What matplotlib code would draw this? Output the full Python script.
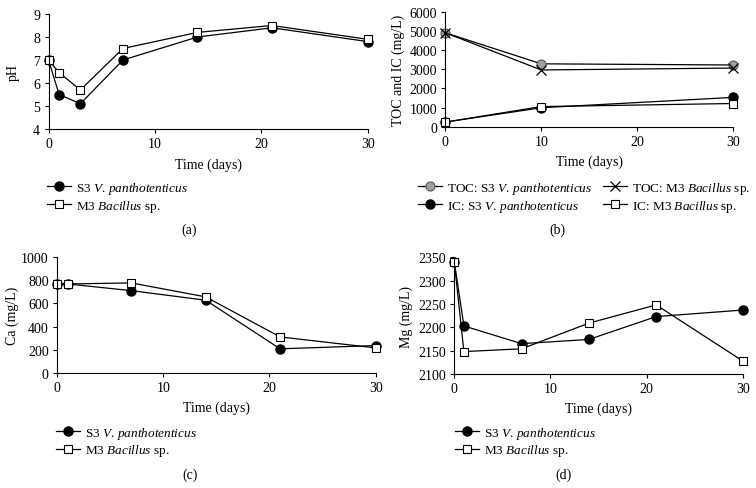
import matplotlib
matplotlib.use("Agg")
import matplotlib.pyplot as plt

plt.rcParams['font.family'] = ['Liberation Serif', 'DejaVu Serif']
plt.rcParams['mathtext.fontset'] = 'custom'
plt.rcParams['mathtext.rm'] = 'Liberation Serif'
plt.rcParams['mathtext.it'] = 'Liberation Serif:italic'
plt.rcParams['font.size'] = 9.5

# ---- data ----
ph_days = [0, 1, 3, 7, 14, 21, 30]
ph_s3 = [7.0, 5.5, 5.1, 7.0, 8.0, 8.4, 7.8]
ph_m3 = [7.0, 6.45, 5.7, 7.5, 8.2, 8.5, 7.9]

c_days = [0, 10, 30]
toc_s3 = [4900, 3280, 3220]
toc_m3 = [4900, 2960, 3060]
ic_s3 = [240, 990, 1530]
ic_m3 = [240, 1050, 1210]

ca_days = [0, 1, 7, 14, 21, 30]
ca_s3 = [769, 769, 711, 628, 207, 235]
ca_m3 = [769, 769, 778, 657, 310, 215]

mg_days = [0, 1, 7, 14, 21, 30]
mg_s3 = [2340, 2203, 2165, 2174, 2223, 2237]
mg_m3 = [2340, 2148, 2154, 2209, 2248, 2128]

lab_s3 = r'S3 $\it{V.\,panthotenticus}$'
lab_m3 = r'M3 $\it{Bacillus}$ sp.'

W, H = 756, 489
FS = 10
LFS = 9.5
fig = plt.figure(figsize=(W / 100, H / 100), dpi=100)


def make_ax(x0, x1, ytop, ybot, ylabel, ylab_x, xlab_y):
    ax = fig.add_axes([x0 / W, 1 - ybot / H, (x1 - x0) / W, (ybot - ytop) / H])
    for s in ['top', 'right']:
        ax.spines[s].set_visible(False)
    for s in ['left', 'bottom']:
        ax.spines[s].set_linewidth(0.8)
    ax.tick_params(direction='out', length=3, width=0.8, labelsize=FS, pad=3)
    ax.set_xlim(0, 30)
    ax.set_xticks([0, 10, 20, 30])
    fig.text((x0 + x1) / 2 / W, 1 - xlab_y / H, 'Time (days)', ha='center', va='center', fontsize=FS)
    fig.text(ylab_x / W, 1 - (ytop + ybot) / 2 / H, ylabel, ha='center', va='center',
             rotation=90, fontsize=FS)
    return ax


def add_legend(ax, x, y, ncol=1):
    ax.legend(loc='upper left', bbox_to_anchor=(x / W, 1 - y / H), bbox_transform=fig.transFigure,
              ncol=ncol, frameon=False, handlelength=1.8, handletextpad=0.4, labelspacing=0.15,
              columnspacing=0.8, borderaxespad=0, borderpad=0, fontsize=LFS)


circ = dict(marker='o', ms=6.5, mfc='black', mec='black', color='black', lw=0.9, clip_on=False)
sq = dict(marker='s', ms=6.2, mfc='white', mec='black', mew=0.8, color='black', lw=0.9, clip_on=False)

# (a)
ax = make_ax(48.5, 367.7, 15, 130, 'pH', 13, 165)
ax.plot(ph_days, ph_s3, label=lab_s3, **circ)
ax.plot(ph_days, ph_m3, label=lab_m3, **sq)
ax.set_ylim(4, 9)
ax.set_yticks([4, 5, 6, 7, 8, 9])
add_legend(ax, 47, 181)

# (b)
ax = make_ax(445.3, 733.3, 12.7, 127.7, 'TOC and IC (mg/L)', 398, 162)
ax.plot(c_days, toc_s3, label=r'TOC: S3 $\it{V.\,panthotenticus}$', marker='o', ms=6.5,
        mfc='#a0a0a0', mec='#555555', mew=0.8, color='black', lw=0.9, clip_on=False)
ax.plot(c_days, ic_s3, label=r'IC: S3 $\it{V.\,panthotenticus}$', **circ)
ax.plot(c_days, toc_m3, label=r'TOC: M3 $\it{Bacillus}$ sp.', marker='x', ms=6.5, mew=0.9,
        mec='black', color='black', lw=0.9, clip_on=False)
ax.plot(c_days, ic_m3, label=r'IC: M3 $\it{Bacillus}$ sp.', **sq)
ax.set_ylim(0, 6000)
ax.set_yticks(range(0, 6001, 1000))
add_legend(ax, 418, 181, ncol=2)

# (c)
ax = make_ax(57, 375.7, 258.3, 373.7, 'Ca (mg/L)', 12, 408)
ax.plot(ca_days, ca_s3, label=lab_s3, **circ)
ax.plot(ca_days, ca_m3, label=lab_m3, **sq)
ax.set_ylim(0, 1000)
ax.set_yticks(range(0, 1001, 200))
add_legend(ax, 56, 425.5)

# (d)
ax = make_ax(454.3, 742.7, 258.3, 375, 'Mg (mg/L)', 406, 409)
ax.plot(mg_days, mg_s3, label=lab_s3, **circ)
ax.plot(mg_days, mg_m3, label=lab_m3, **sq)
ax.set_ylim(2100, 2350)
ax.set_yticks(range(2100, 2351, 50))
add_legend(ax, 455, 425.5)

# captions
fig.text(189 / W, 1 - 230 / H, '(a)', ha='center', va='center', fontsize=FS)
fig.text(557 / W, 1 - 230 / H, '(b)', ha='center', va='center', fontsize=FS)
fig.text(190 / W, 1 - 475 / H, '(c)', ha='center', va='center', fontsize=FS)
fig.text(563 / W, 1 - 475 / H, '(d)', ha='center', va='center', fontsize=FS)

fig.savefig('out.png', dpi=100)
